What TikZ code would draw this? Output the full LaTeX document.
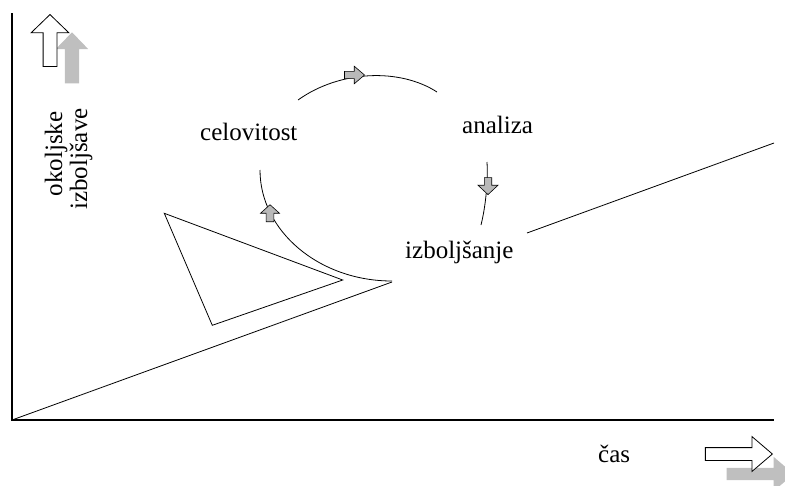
\documentclass[tikz,border=0pt]{standalone}
\usepackage{fontspec}
\setmainfont{Liberation Serif}
\usetikzlibrary{shapes.arrows, positioning}

\begin{document}
\begin{tikzpicture}[x=1pt, y=-1pt,
  lbl/.style={font=\fontsize{25}{30}\selectfont, inner sep=0pt},
  axisline/.style={line width=1.2pt},
  plainline/.style={line width=0.8pt},
  bigarrow/.style={single arrow, draw, fill=white, line width=0.8pt, inner sep=0pt, single arrow head extend=12pt, single arrow tip angle=92, minimum height=52pt, anchor=tip},
  shadowarrow/.style={single arrow, fill=gray!50, inner sep=0pt, single arrow head extend=9pt, single arrow tip angle=88, minimum height=51pt, anchor=tip},
  smallarrow/.style={single arrow, draw, fill=gray!55, line width=0.6pt, inner sep=0pt, single arrow head extend=5.6pt, single arrow tip angle=90, minimum height=17pt, anchor=tip}
]
  \useasboundingbox (0,0) rectangle (785,485);

  % axes with their block arrows
  \draw[axisline] (12,13) -- (12,420) -- (774,420);
  \node[shadowarrow, shape border rotate=90, inner xsep=7pt] (yshadow) at (72,32) {};
  \node[bigarrow, shape border rotate=90, inner xsep=6.5pt] (yarrow) at (50,14) {};
  \node[shadowarrow, shape border rotate=0, inner ysep=6pt, single arrow head extend=11pt, single arrow tip angle=81, minimum height=67pt] (xshadow) at (794,474) {};
  \node[bigarrow, shape border rotate=0, inner ysep=6pt, single arrow head extend=11pt, single arrow tip angle=81, minimum height=67pt] (xarrow) at (773,454) {};

  \node[lbl, rotate=90, anchor=base] (okoljske) at (62,154) {okoljske};
  \node[lbl, rotate=90, anchor=base] (izboljsave) at (87,159) {izboljšave};
  \node[lbl, anchor=base west] (cas) at (598,462) {čas};

  % trend lines and triangle
  \draw[plainline] (12,420) -- (392,282);
  \draw[plainline] (527,233) -- (774,143);
  \draw[plainline] (164.3,213.3) -- (212.3,325.3) -- (342.7,280) -- cycle;

  % cycle
  \draw[plainline] (298,100) .. controls (340,70) and (400,68) .. (437,92);
  \draw[plainline] (487,162) .. controls (488,180) and (486,205) .. (481,225);
  \draw[plainline] (260,170) .. controls (260,231) and (319,281) .. (392,281);

  \node[smallarrow, shape border rotate=0, minimum height=20pt, inner ysep=3.3pt, single arrow head extend=5.2pt, single arrow tip angle=81] (toparrow) at (365,75) {};
  \node[smallarrow, shape border rotate=270, inner xsep=3.4pt, single arrow head extend=6.3pt, single arrow tip angle=94] (rightarrow) at (488,195) {};
  \node[smallarrow, shape border rotate=90, inner xsep=3.6pt, single arrow tip angle=96] (leftarrow) at (270,204.3) {};

  \node[lbl, anchor=base west] (celovitost) at (200,140.7) {celovitost};
  \node[lbl, anchor=base west] (analiza) at (462,133) {analiza};
  \node[lbl, anchor=base west] (izboljsanje) at (405,258) {izboljšanje};
\end{tikzpicture}
\end{document}
